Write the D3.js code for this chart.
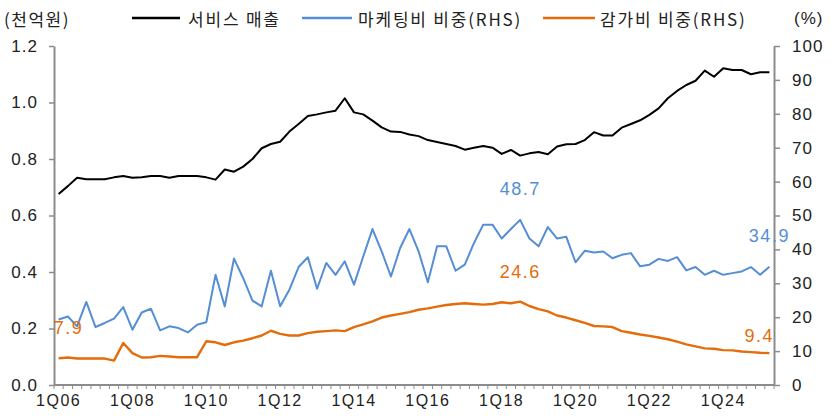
<!DOCTYPE html>
<html><head><meta charset="utf-8">
<script src="https://cdn.jsdelivr.net/npm/d3@7"></script>
<style>body{margin:0;background:#fff} svg{display:block}</style>
</head><body>
<svg id="c" width="831" height="418"></svg>
<script>
const quarters = [
"1Q06","2Q06","3Q06","4Q06","1Q07","2Q07","3Q07","4Q07","1Q08","2Q08","3Q08","4Q08",
"1Q09","2Q09","3Q09","4Q09","1Q10","2Q10","3Q10","4Q10","1Q11","2Q11","3Q11","4Q11",
"1Q12","2Q12","3Q12","4Q12","1Q13","2Q13","3Q13","4Q13","1Q14","2Q14","3Q14","4Q14",
"1Q15","2Q15","3Q15","4Q15","1Q16","2Q16","3Q16","4Q16","1Q17","2Q17","3Q17","4Q17",
"1Q18","2Q18","3Q18","4Q18","1Q19","2Q19","3Q19","4Q19","1Q20","2Q20","3Q20","4Q20",
"1Q21","2Q21","3Q21","4Q21","1Q22","2Q22","3Q22","4Q22","1Q23","2Q23","3Q23","4Q23",
"1Q24","2Q24","3Q24","4Q24","1Q25","2Q25"];
const xTickLabels = ["1Q06","1Q08","1Q10","1Q12","1Q14","1Q16","1Q18","1Q20","1Q22","1Q24"];

// 서비스 매출 (천억원, left axis)
const serviceSales = [
0.676,0.704,0.734,0.728,0.728,0.728,0.735,0.740,0.734,0.735,0.740,0.740,0.734,0.740,0.740,0.740,0.735,0.727,0.763,0.755,
0.773,0.800,0.838,0.853,0.861,0.897,0.924,0.952,0.958,0.965,0.971,1.015,0.965,0.958,0.936,0.912,0.897,0.896,0.887,0.881,
0.867,0.860,0.853,0.846,0.833,0.840,0.846,0.840,0.818,0.832,0.812,0.820,0.825,0.817,0.844,0.852,0.853,0.867,0.895,
0.883,0.883,0.911,0.924,0.937,0.956,0.979,1.015,1.041,1.062,1.077,1.113,1.091,1.121,1.115,1.115,1.100,1.107,1.107];

// 마케팅비 비중 (%, right axis)
const marketingShare = [
19.3,20.2,17.3,24.5,17.1,18.3,19.6,23.0,16.3,21.4,22.5,16.1,17.3,16.8,15.5,17.8,18.5,32.5,23.2,37.3,
31.5,24.9,23.2,33.7,23.2,28.1,34.8,37.7,28.4,36.0,32.5,36.5,29.6,37.9,46.0,39.4,32.0,40.4,46.0,39.4,
30.3,40.9,40.9,33.7,35.5,41.9,47.3,47.3,43.2,46.0,48.7,43.2,40.9,46.6,43.2,43.7,36.2,39.6,39.1,
39.4,37.4,38.4,38.9,35.0,35.5,37.2,36.6,37.7,33.8,34.8,32.5,33.7,32.5,33.0,33.5,34.8,32.5,34.9];

// 감가비 비중 (%, right axis)
const depreciationShare = [
7.9,8.1,7.8,7.8,7.8,7.8,7.2,12.4,9.4,8.1,8.2,8.6,8.4,8.2,8.2,8.2,12.9,12.6,11.8,12.6,
13.1,13.8,14.6,16.0,15.1,14.6,14.6,15.3,15.7,15.9,16.1,15.9,17.1,17.9,18.8,19.9,20.5,21.0,21.5,22.2,
22.6,23.1,23.6,23.9,24.1,23.9,23.7,23.9,24.4,24.1,24.6,23.3,22.4,21.7,20.5,19.9,19.1,18.3,17.4,
17.3,17.1,15.9,15.4,14.9,14.5,14.0,13.5,12.8,12.0,11.4,10.8,10.7,10.3,10.2,9.9,9.7,9.5,9.4];

const leftTicks = [0,0.2,0.4,0.6,0.8,1.0,1.2];
const rightTicks = [0,10,20,30,40,50,60,70,80,90,100];
const legendNames = ["서비스 매출","마케팅비 비중(RHS)","감가비 비중(RHS)"];
const annQuarters = ["1Q06","3Q18","2Q25","3Q18","2Q25"];
const annSeries = ["dep","mkt","mkt","dep","dep"];

// ---- layout / style ----
const W=831,H=418, L=54, R=774, T=46, B=385;
const colors = {sales:"#000000", mkt:"#558ED5", dep:"#E46C0A"};
const axisColor = "#8c8c8c";
const numFont = "'Liberation Sans', Arial, sans-serif";
const krFont = "'Noto Sans CJK KR', 'Noto Sans', sans-serif";

const svg = d3.select("#c");
const x = d3.scalePoint().domain(quarters).range([L,R]).padding(0.5);
const yL = d3.scaleLinear().domain([0,1.2]).range([B,T]);
const yR = d3.scaleLinear().domain([0,100]).range([B,T]);
const step = x.step();

// left axis
const gL = svg.append("g").attr("transform",`translate(${L},0)`)
  .call(d3.axisLeft(yL).tickValues(leftTicks).tickFormat(d3.format(".1f")).tickSize(5).tickSizeOuter(0).tickPadding(11));
// right axis
const gR = svg.append("g").attr("transform",`translate(${R},0)`)
  .call(d3.axisRight(yR).tickValues(rightTicks).tickSize(6).tickSizeOuter(0).tickPadding(12));
[gL,gR].forEach(g=>{
  g.select(".domain").attr("stroke",axisColor).attr("stroke-width",2);
  g.selectAll(".tick line").attr("stroke",axisColor).attr("stroke-width",1.5);
  g.selectAll(".tick text").attr("fill","#222").style("font-family",numFont).style("font-size","17px").style("letter-spacing","1px");
});

// x axis
const gX = svg.append("g").attr("transform",`translate(0,${B})`);
gX.append("line").attr("x1",L).attr("x2",R).attr("y1",0).attr("y2",0).attr("stroke",axisColor).attr("stroke-width",2);
const bounds = quarters.map(q=>x(q)-step/2).concat([x(quarters[quarters.length-1])+step/2]);
gX.selectAll("line.tk").data(bounds).enter().append("line").attr("class","tk")
  .attr("x1",d=>d).attr("x2",d=>d).attr("y1",0).attr("y2",4).attr("stroke",axisColor).attr("stroke-width",1);
gX.selectAll("text").data(xTickLabels).enter().append("text")
  .attr("x",d=>x(d)).attr("y",21).attr("text-anchor","middle")
  .style("font-family",numFont).style("font-size","16px").style("letter-spacing","1.5px").attr("fill","#222")
  .text(d=>d);

// lines
const lineL = d3.line().x((d,i)=>x(quarters[i])).y(d=>yL(d));
const lineR = d3.line().x((d,i)=>x(quarters[i])).y(d=>yR(d));
svg.append("path").datum(depreciationShare).attr("d",lineR).attr("fill","none").attr("stroke",colors.dep).attr("stroke-width",2.4).attr("stroke-linejoin","round");
svg.append("path").datum(marketingShare).attr("d",lineR).attr("fill","none").attr("stroke",colors.mkt).attr("stroke-width",2).attr("stroke-linejoin","round");
svg.append("path").datum(serviceSales).attr("d",lineL).attr("fill","none").attr("stroke",colors.sales).attr("stroke-width",2).attr("stroke-linejoin","round");

// annotations
const annOffsets = [[10,-30],[0,-31],[0,-31],[0,-30],[-10,-17]];
annQuarters.forEach((q,k)=>{
  const s = annSeries[k];
  const arr = s==="mkt"?marketingShare:depreciationShare;
  const v = arr[quarters.indexOf(q)];
  svg.append("text").attr("x",x(q)+annOffsets[k][0]).attr("y",yR(v)+annOffsets[k][1])
    .attr("text-anchor","middle").attr("dominant-baseline","central")
    .attr("fill",colors[s]).style("font-family",numFont).style("font-size","18px").style("letter-spacing","1.5px")
    .text(v.toFixed(1));
});

// legend & unit labels
const ly = 18;
svg.append("text").attr("x",4).attr("y",ly).attr("dominant-baseline","central")
  .style("font-family",krFont).style("font-size","17px").style("letter-spacing","1.5px").attr("fill","#222").text("(천억원)");
svg.append("text").attr("x",794).attr("y",ly).attr("dominant-baseline","central")
  .style("font-family",numFont).style("font-size","17px").style("letter-spacing","1px").attr("fill","#222").text("(%)");
const legendX = [[132,180,188],[302,352,358],[543,595,600]];
const legendColors = [colors.sales, colors.mkt, colors.dep];
legendNames.forEach((n,k)=>{
  svg.append("line").attr("x1",legendX[k][0]).attr("x2",legendX[k][1]).attr("y1",ly).attr("y2",ly)
    .attr("stroke",legendColors[k]).attr("stroke-width",2.4);
  svg.append("text").attr("x",legendX[k][2]).attr("y",ly).attr("dominant-baseline","central")
    .style("font-family",krFont).style("font-size","17px").style("letter-spacing","1.8px").attr("fill","#222").text(n);
});
</script>
</body></html>
